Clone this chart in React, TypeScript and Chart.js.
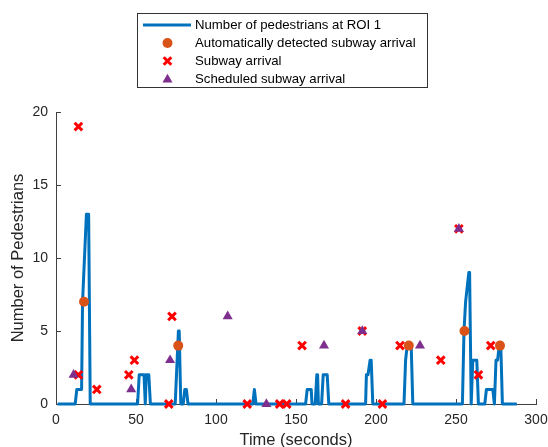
import React, { useEffect, useRef } from 'react';
import { Chart, registerables } from 'chart.js';

Chart.register(...registerables);

// ---- Data ----
const pedTime = [
  1, 12, 13, 16, 16.6, 19, 20.4, 21.4,
  51, 52, 55, 55.8, 56.4, 58, 59,
  74.5, 76.5, 77, 78, 79.5, 80.5, 81.5, 82.5,
  123, 124, 125,
  156, 157, 159.5, 160, 162, 163, 163.5, 164, 166, 167, 169.5, 170.5,
  193.5, 194, 195, 196.3, 197, 198,
  217.5, 218.5, 219.5, 222, 223,
  254, 255, 256, 258, 258.5, 259.5, 260.5, 263, 264,
  268, 269, 273, 274, 275, 276, 277, 278, 279, 288,
];
const pedCount = [
  0, 0, 1, 1, 7, 13, 13, 0,
  0, 2, 2, 0, 2, 2, 0,
  0, 5, 5, 0, 0, 1, 1, 0,
  0, 1, 0,
  0, 1, 1, 0, 0, 2, 2, 0, 0, 2, 2, 0,
  0, 2, 2, 3, 3, 0,
  0, 3, 4, 4, 0,
  0, 5, 7, 9, 9, 0, 3, 3, 0,
  0, 1, 1, 0, 3, 3, 4, 4, 0, 0,
];

const detectedTime = [17.5, 76.4, 220.5, 255.3, 277.5];
const detectedCount = [7, 4, 4, 5, 4];

const subwayTime = [14, 14, 25.5, 45.5, 49, 70.5, 72.5, 119.5, 139.8, 144.2, 153.8, 181, 191.4, 204, 215, 240.5, 251.8, 264, 271.7];
const subwayCount = [19, 2, 1, 2, 3, 0, 6, 0, 0, 0, 4, 0, 5, 0, 4, 3, 12, 2, 4];

const scheduledTime = [11, 47, 71.3, 107.3, 131.5, 167.5, 191.4, 227.5, 251.8];
const scheduledCount = [2, 1, 3, 6, 0, 4, 5, 4, 12];

const seriesLabels = [
  'Number of pedestrians at ROI 1',
  'Automatically detected subway arrival',
  'Subway arrival',
  'Scheduled subway arrival',
];

const xTicks = [0, 50, 100, 150, 200, 250, 300];
const yTicks = [0, 5, 10, 15, 20];
const xTitle = 'Time (seconds)';
const yTitle = 'Number of Pedestrians';

// ---- Styles ----
const FONT = "'Liberation Sans', Arial, Helvetica, sans-serif";
const BLUE = '#0072BD';
const ORANGE = '#D95319';
const RED = '#FF0000';
const PURPLE = '#7E2F8E';
const AXIS = '#404040';
const TEXT = '#262626';

const toPoints = (xs: number[], ys: number[]) => xs.map((x, i) => ({ x, y: ys[i] }));

function drawMarker(ctx: CanvasRenderingContext2D, kind: string, x: number, y: number) {
  ctx.save();
  if (kind === 'circle') {
    ctx.fillStyle = ORANGE;
    ctx.beginPath();
    ctx.arc(x, y, 5, 0, Math.PI * 2);
    ctx.fill();
  } else if (kind === 'cross') {
    ctx.strokeStyle = RED;
    ctx.lineWidth = 3;
    const d = 3.8;
    ctx.beginPath();
    ctx.moveTo(x - d, y - d);
    ctx.lineTo(x + d, y + d);
    ctx.moveTo(x - d, y + d);
    ctx.lineTo(x + d, y - d);
    ctx.stroke();
  } else if (kind === 'triangle') {
    ctx.fillStyle = PURPLE;
    const r = 5.8;
    ctx.beginPath();
    ctx.moveTo(x, y - r);
    ctx.lineTo(x + r * 0.866, y + r * 0.5);
    ctx.lineTo(x - r * 0.866, y + r * 0.5);
    ctx.closePath();
    ctx.fill();
  }
  ctx.restore();
}

const matlabAxes = {
  id: 'matlabAxes',
  beforeDatasetsDraw(chart: any) {
    const { ctx, chartArea, scales } = chart;
    ctx.save();
    ctx.strokeStyle = AXIS;
    ctx.lineWidth = 1;
    ctx.beginPath();
    xTicks.forEach((t) => {
      const px = Math.round(scales.x.getPixelForValue(t)) + 0.5;
      ctx.moveTo(px, chartArea.bottom);
      ctx.lineTo(px, chartArea.bottom - 5);
    });
    yTicks.forEach((t) => {
      const py = Math.round(scales.y.getPixelForValue(t)) + 0.5;
      ctx.moveTo(chartArea.left, py);
      ctx.lineTo(chartArea.left + 5, py);
    });
    ctx.stroke();
    ctx.restore();
  },
};

const boxLegend = {
  id: 'boxLegend',
  afterDraw(chart: any) {
    const ctx: CanvasRenderingContext2D = chart.ctx;
    const left = 137, top = 13, w = 291, h = 75;
    ctx.save();
    ctx.fillStyle = '#ffffff';
    ctx.fillRect(left, top, w, h);
    ctx.strokeStyle = '#333333';
    ctx.lineWidth = 1;
    ctx.strokeRect(left + 0.5, top + 0.5, w - 1, h - 1);
    const rows = [25, 43, 61, 79];
    const mx = 167.5;
    ctx.strokeStyle = BLUE;
    ctx.lineWidth = 3;
    ctx.beginPath();
    ctx.moveTo(143, rows[0]);
    ctx.lineTo(191, rows[0]);
    ctx.stroke();
    drawMarker(ctx, 'circle', mx, rows[1]);
    drawMarker(ctx, 'cross', mx, rows[2]);
    drawMarker(ctx, 'triangle', mx, rows[3] + 0.5);
    ctx.fillStyle = '#000000';
    ctx.font = `13.2px ${FONT}`;
    ctx.textBaseline = 'middle';
    ctx.textAlign = 'left';
    chart.data.datasets.forEach((ds: any, i: number) => {
      ctx.fillText(ds.label, 195, rows[i] + 0.5);
    });
    ctx.restore();
  },
};

export default function App() {
  const ref = useRef<HTMLCanvasElement>(null);
  useEffect(() => {
    if (!ref.current) return;
    const chart = new Chart(ref.current, {
      type: 'scatter',
      data: {
        datasets: [
          {
            type: 'line',
            label: seriesLabels[0],
            data: toPoints(pedTime, pedCount),
            borderColor: BLUE,
            backgroundColor: BLUE,
            borderWidth: 3,
            borderJoinStyle: 'round',
            pointRadius: 0,
            tension: 0,
            fill: false,
            order: 4,
            clip: false,
          } as any,
          {
            label: seriesLabels[1],
            data: toPoints(detectedTime, detectedCount),
            pointStyle: 'circle',
            pointRadius: 5,
            backgroundColor: ORANGE,
            borderColor: ORANGE,
            borderWidth: 0,
            order: 3,
            clip: false,
          },
          {
            label: seriesLabels[2],
            data: toPoints(subwayTime, subwayCount),
            pointStyle: 'crossRot',
            pointRadius: 5.4,
            backgroundColor: RED,
            borderColor: RED,
            borderWidth: 3,
            order: 2,
            clip: false,
          },
          {
            label: seriesLabels[3],
            data: toPoints(scheduledTime, scheduledCount),
            pointStyle: 'triangle',
            pointRadius: 5.8,
            backgroundColor: PURPLE,
            borderColor: PURPLE,
            borderWidth: 0,
            order: 1,
            clip: false,
          },
        ],
      },
      options: {
        responsive: false,
        animation: false,
        events: [],
        layout: { padding: { top: 112, right: 12, left: 0, bottom: 0 } },
        plugins: {
          legend: { display: false },
          tooltip: { enabled: false },
        },
        scales: {
          x: {
            type: 'linear',
            min: 0,
            max: 300,
            afterFit: (s: any) => {
              s.height = 43;
              s.paddingLeft = 0;
              s.paddingRight = 0;
            },
            afterBuildTicks: (s: any) => { s.ticks = xTicks.map((v) => ({ value: v })); },
            grid: { display: false, drawTicks: false },
            border: { display: true, color: AXIS, width: 1 },
            ticks: {
              color: TEXT,
              font: { family: FONT, size: 14 },
              padding: 8,
              maxRotation: 0,
              autoSkip: false,
            },
            title: {
              display: true,
              text: xTitle,
              color: TEXT,
              font: { family: FONT, size: 16.5 },
              padding: { top: 0, bottom: -3 },
            },
          },
          y: {
            type: 'linear',
            min: 0,
            max: 20,
            afterFit: (s: any) => {
              s.width = 56;
              s.paddingTop = 0;
              s.paddingBottom = 0;
            },
            afterBuildTicks: (s: any) => { s.ticks = yTicks.map((v) => ({ value: v })); },
            grid: { display: false, drawTicks: false },
            border: { display: true, color: AXIS, width: 1 },
            ticks: {
              color: TEXT,
              font: { family: FONT, size: 14 },
              padding: 8,
              autoSkip: false,
            },
            title: {
              display: true,
              text: yTitle,
              color: TEXT,
              font: { family: FONT, size: 16.5 },
              padding: { top: 8.5, bottom: 0 },
            },
          },
        },
      },
      plugins: [matlabAxes, boxLegend],
    });
    return () => chart.destroy();
  }, []);

  return (
    <div style={{ position: 'fixed', left: 0, top: 0, width: 548, height: 447, background: '#ffffff' }}>
      <canvas ref={ref} width={548} height={447} style={{ display: 'block', width: 548, height: 447 }} />
    </div>
  );
}
